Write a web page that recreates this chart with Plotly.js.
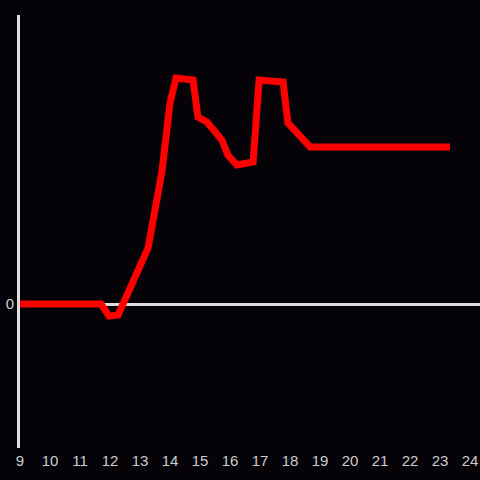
<!DOCTYPE html>
<html>
<head>
<meta charset="utf-8">
<script src="https://cdn.plot.ly/plotly-3.0.1.min.js"></script>
<style>html,body{margin:0;padding:0;background:#050308;}</style>
</head>
<body>
<div id="chart" style="width:480px;height:480px;"></div>
<script>
const hours = [9, 11.7, 11.97, 12.27, 13.27, 13.73, 14.0, 14.2, 14.77, 14.93, 15.23, 15.73, 15.93, 16.23, 16.77, 16.97, 17.77, 17.93, 18.67, 23.33];
const values = [0, 0, -12, -11, 56, 132, 201, 226, 224, 187, 182, 164, 149, 139, 142, 224, 222, 181, 157, 157];
const xTicks = [9, 10, 11, 12, 13, 14, 15, 16, 17, 18, 19, 20, 21, 22, 23, 24];

Plotly.newPlot('chart', [{
  x: hours, y: values, type: 'scatter', mode: 'lines',
  line: {color: '#ff0000', width: 7}
}], {
  width: 480, height: 480,
  paper_bgcolor: '#050308', plot_bgcolor: '#050308',
  margin: {l: 20, r: 0, t: 15, b: 32},
  showlegend: false,
  font: {family: 'Liberation Sans, Arial, sans-serif', size: 15, color: '#cccccc'},
  xaxis: {range: [9, 24.333], tickvals: xTicks, ticktext: xTicks.map(String),
    showgrid: false, zeroline: false, showline: false, ticks: '', ticklen: 0, ticklabelstandoff: 2},
  yaxis: {range: [-144, 289], tickvals: [0], ticktext: ['0'], showgrid: false,
    zeroline: true, zerolinecolor: '#dddddd', zerolinewidth: 3,
    showline: true, linecolor: '#dddddd', linewidth: 3, ticks: ''}
}, {staticPlot: true});
</script>
</body>
</html>
